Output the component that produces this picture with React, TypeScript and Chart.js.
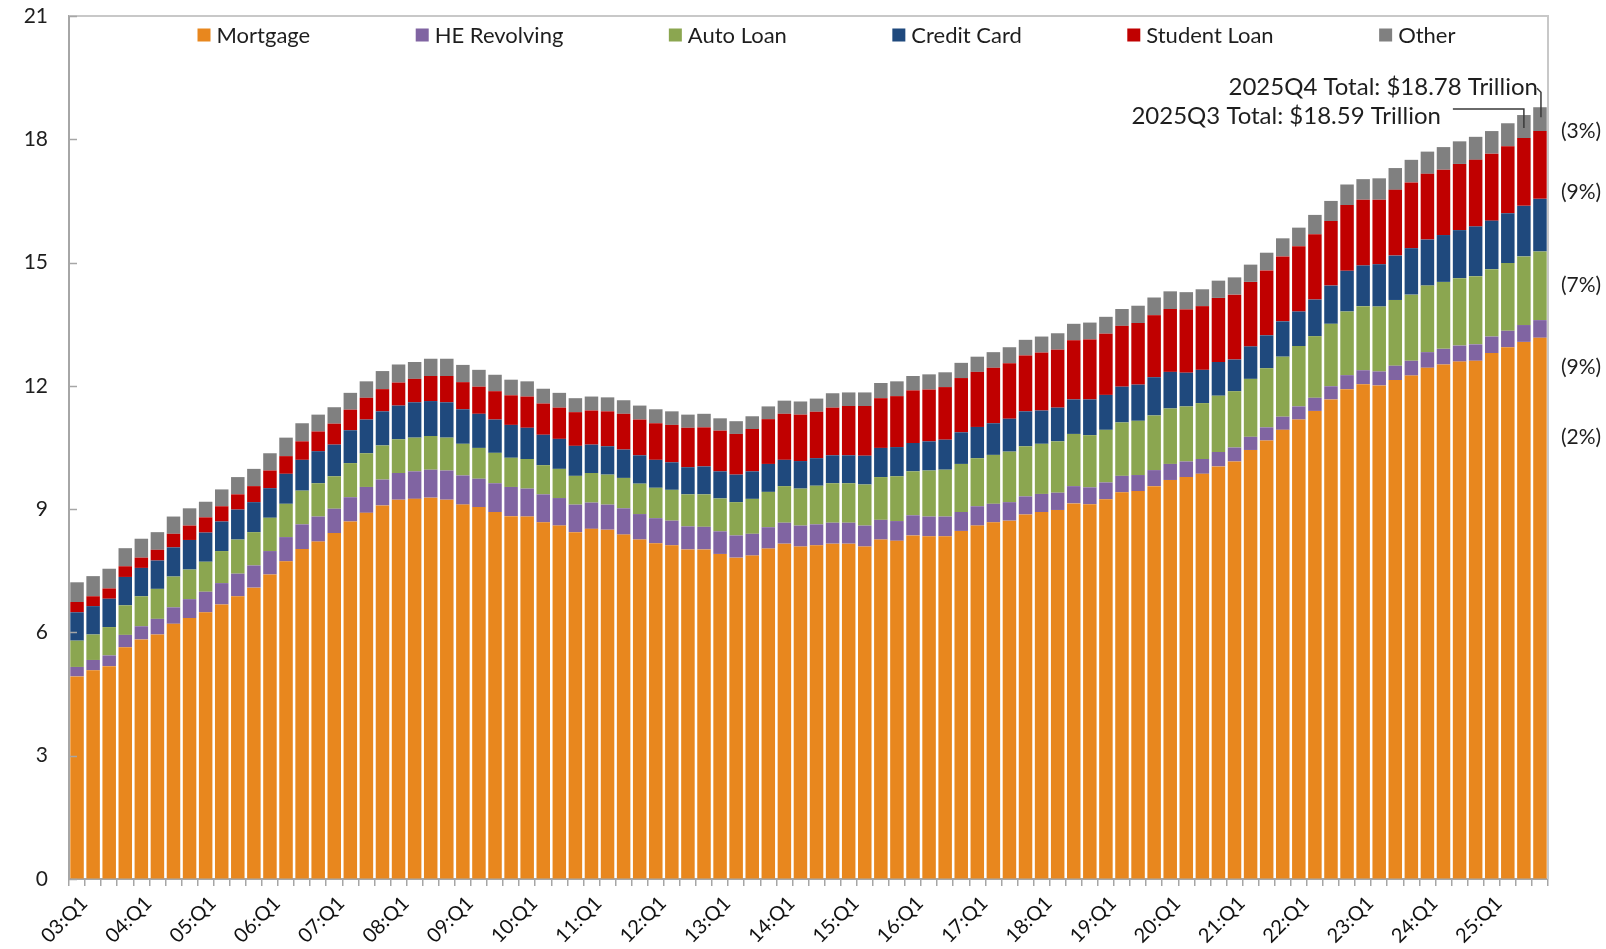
import React, { useEffect, useRef } from 'react';
import { Chart, registerables } from 'chart.js';
Chart.register(...registerables);

// Quarters 2003:Q1 .. 2025:Q4
const categories: string[] = [];
for (let yr = 3; yr <= 25; yr++) {
  for (let q = 1; q <= 4; q++) categories.push(`${String(yr).padStart(2, '0')}:Q${q}`);
}

const seriesNames = ['Mortgage', 'HE Revolving', 'Auto Loan', 'Credit Card', 'Student Loan', 'Other'];
const seriesColors = ['#E8871E', '#8064A2', '#8BA650', '#1F497D', '#C00000', '#808080'];

const mortgage = [
  4.93, 5.08, 5.18, 5.64, 5.83, 5.95, 6.21, 6.35, 6.49, 6.68, 6.88, 7.09,
  7.41, 7.73, 8.03, 8.21, 8.42, 8.70, 8.91, 9.09, 9.23, 9.25, 9.28, 9.23,
  9.11, 9.05, 8.93, 8.83, 8.82, 8.68, 8.60, 8.44, 8.52, 8.50, 8.38, 8.26,
  8.17, 8.12, 8.02, 8.02, 7.91, 7.82, 7.87, 8.04, 8.16, 8.09, 8.12, 8.16,
  8.16, 8.09, 8.26, 8.23, 8.36, 8.34, 8.34, 8.47, 8.60, 8.68, 8.72, 8.87,
  8.93, 8.98, 9.14, 9.12, 9.24, 9.41, 9.44, 9.56, 9.71, 9.78, 9.86, 10.04,
  10.16, 10.44, 10.67, 10.93, 11.18, 11.39, 11.67, 11.92, 12.04, 12.01, 12.14, 12.25,
  12.44, 12.52, 12.59, 12.61, 12.80, 12.94, 13.07, 13.17,
];
const heRevolving = [
  0.23, 0.25, 0.26, 0.30, 0.32, 0.38, 0.40, 0.46, 0.50, 0.52, 0.55, 0.54,
  0.57, 0.59, 0.60, 0.61, 0.59, 0.59, 0.63, 0.63, 0.65, 0.67, 0.68, 0.71,
  0.71, 0.69, 0.70, 0.71, 0.68, 0.68, 0.67, 0.67, 0.64, 0.61, 0.64, 0.62,
  0.61, 0.60, 0.56, 0.55, 0.55, 0.54, 0.53, 0.52, 0.51, 0.51, 0.51, 0.51,
  0.51, 0.51, 0.48, 0.48, 0.49, 0.48, 0.48, 0.46, 0.47, 0.45, 0.45, 0.44,
  0.44, 0.42, 0.42, 0.41, 0.41, 0.40, 0.39, 0.39, 0.39, 0.38, 0.36, 0.35,
  0.34, 0.32, 0.32, 0.32, 0.32, 0.32, 0.32, 0.34, 0.34, 0.34, 0.35, 0.36,
  0.38, 0.38, 0.39, 0.40, 0.40, 0.40, 0.41, 0.43,
];
const autoLoan = [
  0.64, 0.62, 0.69, 0.72, 0.73, 0.73, 0.75, 0.72, 0.73, 0.78, 0.83, 0.81,
  0.81, 0.81, 0.82, 0.81, 0.79, 0.83, 0.82, 0.83, 0.82, 0.82, 0.82, 0.80,
  0.77, 0.75, 0.74, 0.71, 0.72, 0.71, 0.71, 0.70, 0.72, 0.73, 0.74, 0.74,
  0.74, 0.75, 0.78, 0.79, 0.80, 0.81, 0.85, 0.86, 0.89, 0.90, 0.94, 0.96,
  0.96, 1.00, 1.04, 1.09, 1.07, 1.12, 1.14, 1.17, 1.17, 1.19, 1.23, 1.22,
  1.22, 1.25, 1.27, 1.27, 1.28, 1.30, 1.32, 1.33, 1.35, 1.34, 1.36, 1.37,
  1.37, 1.41, 1.44, 1.46, 1.47, 1.50, 1.52, 1.55, 1.56, 1.58, 1.60, 1.61,
  1.62, 1.63, 1.64, 1.66, 1.64, 1.65, 1.67, 1.67,
];
const creditCard = [
  0.69, 0.69, 0.69, 0.69, 0.69, 0.69, 0.71, 0.72, 0.71, 0.72, 0.73, 0.73,
  0.72, 0.73, 0.75, 0.78, 0.77, 0.80, 0.82, 0.83, 0.82, 0.86, 0.85, 0.86,
  0.84, 0.83, 0.81, 0.80, 0.76, 0.74, 0.73, 0.73, 0.69, 0.69, 0.69, 0.69,
  0.68, 0.67, 0.66, 0.68, 0.66, 0.67, 0.67, 0.68, 0.64, 0.67, 0.67, 0.68,
  0.68, 0.70, 0.71, 0.71, 0.69, 0.71, 0.73, 0.77, 0.76, 0.77, 0.80, 0.85,
  0.81, 0.82, 0.84, 0.87, 0.85, 0.87, 0.88, 0.93, 0.89, 0.82, 0.81, 0.82,
  0.77, 0.79, 0.80, 0.86, 0.84, 0.89, 0.93, 0.99, 0.99, 1.03, 1.08, 1.13,
  1.12, 1.14, 1.17, 1.21, 1.18, 1.21, 1.23, 1.28,
];
const studentLoan = [
  0.25, 0.24, 0.25, 0.26, 0.25, 0.26, 0.33, 0.35, 0.37, 0.37, 0.37, 0.39,
  0.43, 0.43, 0.45, 0.48, 0.51, 0.50, 0.53, 0.54, 0.56, 0.57, 0.61, 0.64,
  0.66, 0.66, 0.69, 0.72, 0.76, 0.76, 0.76, 0.82, 0.83, 0.85, 0.87, 0.87,
  0.89, 0.91, 0.96, 0.95, 0.99, 0.99, 1.03, 1.09, 1.12, 1.13, 1.13, 1.16,
  1.20, 1.21, 1.21, 1.24, 1.28, 1.26, 1.28, 1.32, 1.34, 1.35, 1.35, 1.36,
  1.41, 1.41, 1.44, 1.46, 1.49, 1.48, 1.50, 1.51, 1.53, 1.54, 1.55, 1.56,
  1.58, 1.57, 1.58, 1.58, 1.59, 1.59, 1.57, 1.60, 1.60, 1.57, 1.60, 1.60,
  1.60, 1.59, 1.61, 1.62, 1.63, 1.63, 1.65, 1.65,
];
const other = [
  0.48, 0.49, 0.48, 0.44, 0.46, 0.43, 0.42, 0.42, 0.38, 0.41, 0.42, 0.42,
  0.42, 0.45, 0.44, 0.41, 0.40, 0.41, 0.40, 0.44, 0.44, 0.41, 0.42, 0.42,
  0.42, 0.41, 0.40, 0.38, 0.37, 0.36, 0.36, 0.34, 0.34, 0.34, 0.33, 0.34,
  0.34, 0.33, 0.32, 0.33, 0.30, 0.31, 0.31, 0.31, 0.32, 0.32, 0.32, 0.35,
  0.33, 0.33, 0.37, 0.36, 0.35, 0.37, 0.36, 0.37, 0.37, 0.38, 0.39, 0.38,
  0.39, 0.40, 0.40, 0.41, 0.41, 0.41, 0.42, 0.43, 0.43, 0.42, 0.41, 0.42,
  0.42, 0.42, 0.43, 0.44, 0.45, 0.47, 0.49, 0.50, 0.50, 0.52, 0.53, 0.55,
  0.54, 0.55, 0.55, 0.56, 0.55, 0.56, 0.56, 0.58,
];

const series = [mortgage, heRevolving, autoLoan, creditCard, studentLoan, other];
const yTicks = [0, 3, 6, 9, 12, 15, 18, 21];

const FONT = 'Lato, "Open Sans", sans-serif';
const TEXT = '#1E1E1E';

const overlayPlugin = {
  id: 'overlay',
  beforeDatasetsDraw(chart: any) {
    const { ctx, chartArea: a } = chart;
    ctx.save();
    ctx.strokeStyle = '#C8C8C8';
    ctx.lineWidth = 2;
    ctx.beginPath();
    ctx.moveTo(a.left, a.top);
    ctx.lineTo(a.right, a.top);
    ctx.lineTo(a.right, a.bottom);
    ctx.stroke();
    ctx.restore();
  },
  afterDraw(chart: any, _args: any, opts: any) {
    const { ctx, chartArea: a, scales } = chart;
    const xs = scales.x;
    const ys = scales.y;
    ctx.save();

    // inner y tick marks
    ctx.strokeStyle = '#A6A6A6';
    ctx.lineWidth = 1.5;
    yTicks.forEach((v) => {
      const py = Math.round(ys.getPixelForValue(v)) + 0.5;
      ctx.beginPath();
      ctx.moveTo(a.left, py);
      ctx.lineTo(a.left + 8, py);
      ctx.stroke();
    });

    // rotated x labels (every Q1)
    ctx.font = `20px ${FONT}`;
    ctx.fillStyle = '#111';
    ctx.textAlign = 'right';
    ctx.textBaseline = 'middle';
    categories.forEach((c, i) => {
      if (!c.endsWith('Q1')) return;
      const px = xs.getPixelForValue(i);
      ctx.save();
      ctx.translate(px + 7, a.bottom + 21);
      ctx.rotate(-Math.PI / 4);
      ctx.fillText(c, 0, 0);
      ctx.restore();
    });

    // legend inside the plot
    ctx.font = `22px ${FONT}`;
    ctx.textBaseline = 'middle';
    ctx.textAlign = 'left';
    const box = 13;
    const boxGap = 6;
    const gap = 105.5;
    const widths = seriesNames.map((n) => ctx.measureText(n).width);
    const total = widths.reduce((s, w) => s + box + boxGap + w, 0) + gap * (seriesNames.length - 1);
    let lx = (a.left + a.right) / 2 + 18 - total / 2;
    const ly = a.top + 19;
    seriesNames.forEach((n, i) => {
      ctx.fillStyle = seriesColors[i];
      ctx.fillRect(lx, ly - box / 2, box, box);
      ctx.fillStyle = TEXT;
      ctx.fillText(n, lx + box + boxGap, ly + 1);
      lx += box + boxGap + widths[i] + gap;
    });

    // totals annotations
    const n = categories.length;
    const tot = (i: number) => series.reduce((s, arr) => s + arr[i], 0);
    const t4 = tot(n - 1);
    const t3 = tot(n - 2);
    const x4 = xs.getPixelForValue(n - 1);
    const x3 = xs.getPixelForValue(n - 2);
    const y4 = ys.getPixelForValue(t4);
    const y3 = ys.getPixelForValue(t3);
    ctx.font = `24px ${FONT}`;
    ctx.textAlign = 'right';
    ctx.fillStyle = TEXT;
    ctx.fillText(`2025Q4 Total: $${t4.toFixed(2)} Trillion`, x4 - 2, y4 - 20);
    const q3Text = `2025Q3 Total: $${t3.toFixed(2)} Trillion`;
    const q3Right = x3 - 83;
    ctx.fillText(q3Text, q3Right, y3 + 1);
    ctx.strokeStyle = '#3A3A3A';
    ctx.lineWidth = 1.5;
    ctx.beginPath();
    ctx.moveTo(x4 - 3, y4 - 19);
    ctx.lineTo(x4 + 1, y4 - 15);
    ctx.lineTo(x4 + 1, y4 + 10);
    ctx.stroke();
    ctx.beginPath();
    ctx.moveTo(q3Right + 12, y3 - 6);
    ctx.lineTo(x3, y3 - 6);
    ctx.lineTo(x3, y3 + 13);
    ctx.stroke();

    // share labels on the right
    ctx.font = `21px ${FONT}`;
    ctx.textAlign = 'center';
    const shares = [other, studentLoan, creditCard, autoLoan, heRevolving].map(
      (arr) => `(${Math.round((arr[n - 1] / t4) * 100)}%)`
    );
    shares.forEach((s, i) => {
      ctx.fillText(s, a.right + 33, ys.getPixelForValue(opts.shareAt[i]));
    });
    ctx.restore();
  },
};

export default function App() {
  const ref = useRef<HTMLCanvasElement | null>(null);
  useEffect(() => {
    if (!ref.current) return;
    const chart = new Chart(ref.current, {
      type: 'bar',
      data: {
        labels: categories,
        datasets: series.map((d, i) => ({
          label: seriesNames[i],
          data: d,
          backgroundColor: seriesColors[i],
          borderWidth: 0,
          barPercentage: 0.84,
          categoryPercentage: 1,
        })),
      },
      options: {
        animation: false,
        responsive: false,
        maintainAspectRatio: false,
        layout: { padding: { left: 0, top: 16, right: 58, bottom: 0 } },
        plugins: {
          legend: { display: false },
          tooltip: { enabled: false },
          overlay: { shareAt: [18.2, 16.7, 14.45, 12.45, 10.75] },
        } as any,
        scales: {
          x: {
            stacked: true,
            border: { color: '#A6A6A6', width: 2 },
            grid: { drawOnChartArea: false, drawTicks: true, tickLength: 7, color: '#A6A6A6', lineWidth: 1.5, offset: true },
            ticks: { display: false, autoSkip: false },
            afterFit: (s: any) => { s.height = 70; },
          },
          y: {
            stacked: true,
            min: 0,
            max: 21,
            border: { color: '#A6A6A6', width: 2 },
            grid: { drawOnChartArea: false, drawTicks: true, tickLength: 19, color: 'rgba(0,0,0,0)' },
            ticks: {
              stepSize: 3,
              padding: 2,
              color: TEXT,
              font: { family: FONT, size: 21 },
            },
            afterFit: (s: any) => { s.width = 69; },
          },
        },
      },
      plugins: [overlayPlugin],
    });
    return () => chart.destroy();
  }, []);
  return (
    <div style={{ position: 'fixed', left: 0, top: 0, width: 1606, height: 949, background: '#fff' }}>
      <canvas ref={ref} width={1606} height={949} style={{ display: 'block' }} />
    </div>
  );
}
